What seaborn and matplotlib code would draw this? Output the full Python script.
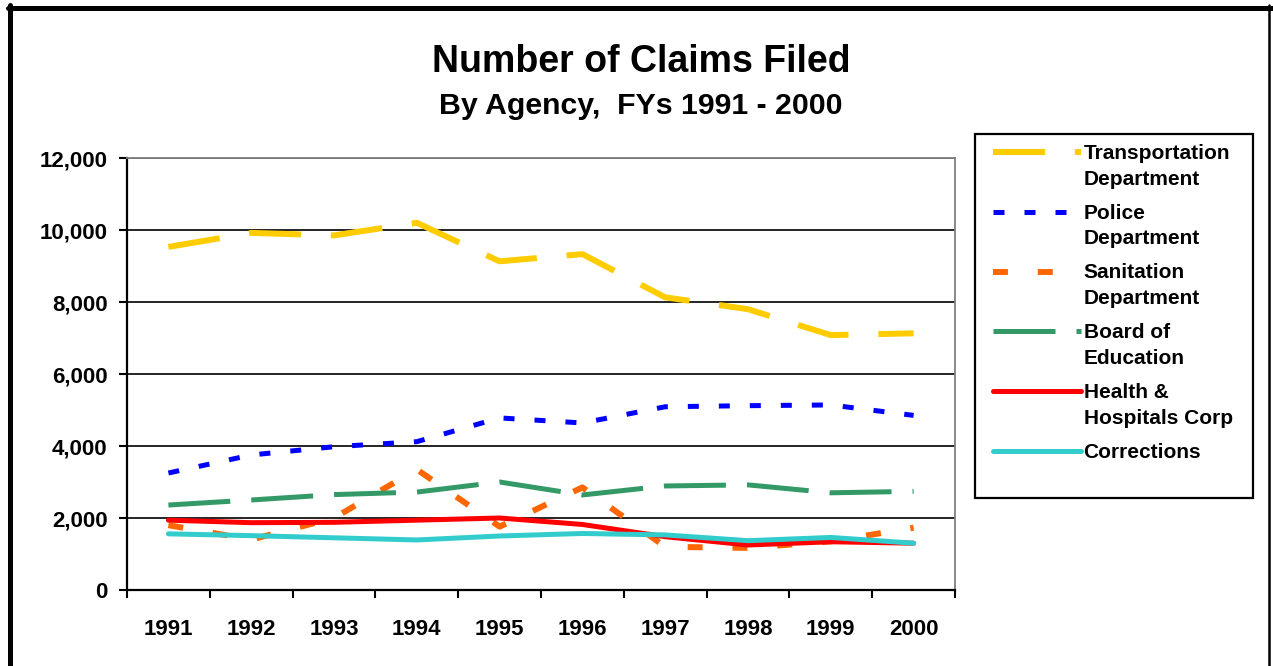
import numpy as np
import pandas as pd
import matplotlib
matplotlib.use("Agg")
import matplotlib.pyplot as plt
from matplotlib.lines import Line2D
from matplotlib.patches import Rectangle
from matplotlib.ticker import FuncFormatter, FixedLocator
import seaborn as sns

# --- data ---
years = [1991, 1992, 1993, 1994, 1995, 1996, 1997, 1998, 1999, 2000]
agencies = ["Transportation\nDepartment", "Police\nDepartment", "Sanitation\nDepartment",
            "Board of\nEducation", "Health &\nHospitals Corp", "Corrections"]
transportation = [9530, 9920, 9850, 10200, 9130, 9330, 8130, 7800, 7080, 7130]
police = [3250, 3750, 3980, 4120, 4780, 4640, 5090, 5120, 5140, 4850]
sanitation = [1800, 1400, 2000, 3350, 1760, 2850, 1200, 1170, 1350, 1730]
education = [2360, 2500, 2650, 2720, 3000, 2640, 2890, 2920, 2700, 2740]
health = [1940, 1870, 1880, 1940, 2000, 1820, 1480, 1250, 1340, 1300]
corrections = [1560, 1510, 1450, 1390, 1500, 1570, 1530, 1370, 1460, 1300]
y_ticks = [0, 2000, 4000, 6000, 8000, 10000, 12000]

# --- styles ---
colors = ["#FFCC00", "#0000FF", "#FF6600", "#339966", "#FF0000", "#33CCCC"]
widths = [4.3, 3.6, 4.3, 3.6, 3.6, 3.6]
dash_styles = [(8.7, 5.0), (2.2, 4.0), (2.5, 5.0), (12.4, 4.2), "", ""]

df = pd.DataFrame({
    "Year": years * len(agencies),
    "Agency": np.repeat(agencies, len(years)),
    "Claims": np.concatenate([transportation, police, sanitation, education, health, corrections]),
})

sns.set_style("white")
plt.rcParams["font.family"] = ["Liberation Sans", "DejaVu Sans"]
plt.rcParams["font.weight"] = "bold"
plt.rcParams["text.color"] = "black"
plt.rcParams["xtick.color"] = "black"
plt.rcParams["ytick.color"] = "black"

fig = plt.figure(figsize=(12.73, 6.66), dpi=100)
ax = fig.add_axes([127 / 1273, 76 / 666, 828 / 1273, 432 / 666])

sns.lineplot(data=df, x="Year", y="Claims", hue="Agency", style="Agency", size="Agency",
             palette=dict(zip(agencies, colors)), dashes=dict(zip(agencies, dash_styles)),
             sizes=dict(zip(agencies, widths)), legend=False, ax=ax, zorder=3)

# axes look
ax.set_xlim(years[0] - 0.5, years[-1] + 0.5)
ax.set_ylim(y_ticks[0], y_ticks[-1])
ax.set_xlabel("")
ax.set_ylabel("")
ax.yaxis.set_major_locator(FixedLocator(y_ticks))
ax.yaxis.set_major_formatter(FuncFormatter(lambda v, p: f"{int(v):,}"))
ax.xaxis.set_major_locator(FixedLocator([y - 0.5 for y in years] + [years[-1] + 0.5]))
ax.xaxis.set_major_formatter(FuncFormatter(lambda v, p: ""))
ax.xaxis.set_minor_locator(FixedLocator(years))
ax.xaxis.set_minor_formatter(FuncFormatter(lambda v, p: f"{int(round(v))}"))
ax.tick_params(axis="x", which="major", direction="out", length=6, width=1.5, color="black", bottom=True)
ax.tick_params(axis="x", which="minor", length=0, pad=21, labelsize=16, labelcolor="black")
ax.tick_params(axis="y", direction="out", length=6, width=1.5, color="black", pad=8, labelsize=16,
               labelcolor="black", left=True)
for lab in ax.get_xticklabels(minor=True) + ax.get_yticklabels():
    lab.set_fontweight("bold")

ax.grid(axis="y", color="black", linewidth=1.2, zorder=0)
ax.set_axisbelow(True)
for side in ["left", "bottom"]:
    ax.spines[side].set_color("black")
    ax.spines[side].set_linewidth(1.6)
for side in ["top", "right"]:
    ax.spines[side].set_color("#808080")
    ax.spines[side].set_linewidth(1.3)

# titles
fig.text(641 / 1273, 1 - 62 / 666, "Number of Claims Filed", ha="center", va="center",
         fontsize=27, fontweight="bold", color="black")
fig.text(641 / 1273, 1 - 106 / 666, "By Agency,  FYs 1991 - 2000", ha="center", va="center",
         fontsize=21.8, fontweight="bold", color="black")

# legend
handles = ax.get_lines()[:len(agencies)]
leg = fig.legend(handles, agencies, loc="upper left", bbox_to_anchor=(993 / 1273, 1 - 144 / 666),
                 bbox_transform=fig.transFigure, frameon=False, borderpad=0, borderaxespad=0,
                 handlelength=4.2, handleheight=1.0, handletextpad=0.15, labelspacing=0.72,
                 prop=dict(size=15, weight="bold"), labelcolor="black")
for t in leg.get_texts():
    t.set_linespacing(1.45)
for col in leg._legend_handle_box.get_children():
    for item in col.get_children():
        item.align = "top"
fig.add_artist(Rectangle((975 / 1273, 1 - 498 / 666), 278 / 1273, 364 / 666,
                         transform=fig.transFigure, fill=False, edgecolor="black", linewidth=1.6))

# outer chart frame
fig.add_artist(Line2D([8 / 1273, 1.0], [1 - 7.5 / 666] * 2, transform=fig.transFigure, color="black", lw=3.6))
fig.add_artist(Line2D([10 / 1273] * 2, [0, 1 - 5 / 666], transform=fig.transFigure, color="black", lw=3.6))
fig.add_artist(Line2D([1269 / 1273] * 2, [0, 1 - 5 / 666], transform=fig.transFigure, color="black", lw=1.8))

fig.savefig("out.png", dpi=100, facecolor="white")
